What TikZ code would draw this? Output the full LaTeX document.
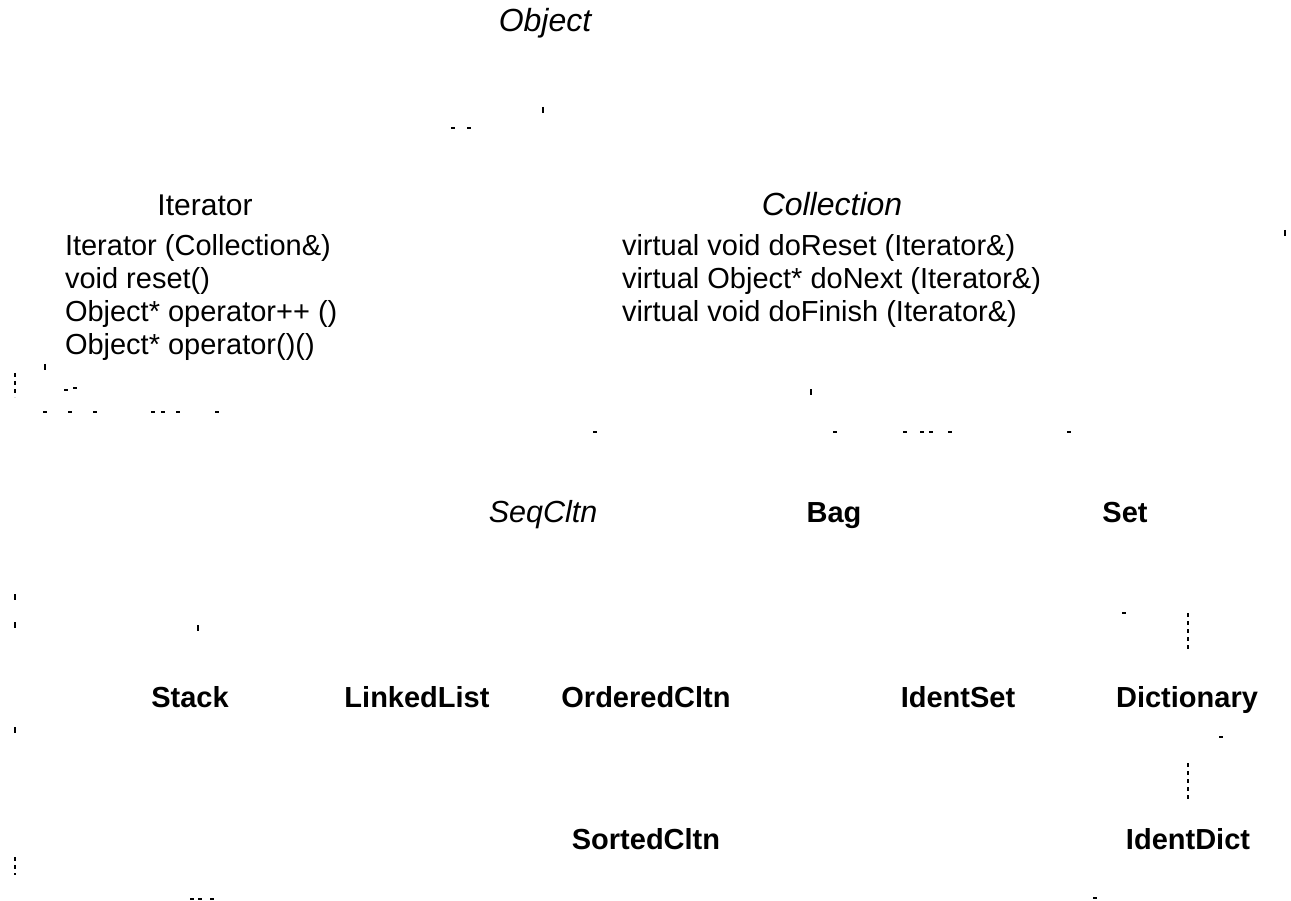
\documentclass[tikz,border=0pt]{standalone}
\usepackage{fontspec}
\setmainfont{Liberation Sans}
\begin{document}
\begin{tikzpicture}[x=1pt,y=-1pt,
  every node/.style={inner sep=0pt, outer sep=0pt},
  cls/.style={font=\fontsize{29}{33}\selectfont\bfseries, anchor=base},
  abscls/.style={font=\fontsize{30.5}{33}\selectfont\itshape, anchor=base},
  bigabs/.style={font=\fontsize{32}{33}\selectfont\itshape, anchor=base},
  plaincls/.style={font=\fontsize{30}{33}\selectfont, anchor=base},
  oper/.style={font=\fontsize{29}{33}\selectfont, anchor=base west},
  speck/.style={line width=1.6pt},
  dashfrag/.style={line width=1.4pt, dash pattern=on 4pt off 4pt}]
\useasboundingbox (0,0) rectangle (1291,901);

% class names
\node[bigabs] (object) at (545,32) {Object};
\node[plaincls] (iterator) at (205,216) {Iterator};
\node[bigabs] (collection) at (832,216) {Collection};
\node[abscls] (seqcltn) at (543,522) {SeqCltn};
\node[cls] (bag) at (834,522) {Bag};
\node[cls] (set) at (1125,522) {Set};
\node[cls] (stack) at (190,707) {Stack};
\node[cls] (linkedlist) at (417,707) {LinkedList};
\node[cls] (orderedcltn) at (646,707) {OrderedCltn};
\node[cls] (identset) at (958,707) {IdentSet};
\node[cls] (dictionary) at (1187,707) {Dictionary};
\node[cls] (sortedcltn) at (646,849) {SortedCltn};
\node[cls] (identdict) at (1188,849) {IdentDict};

% Iterator operations
\node[oper] (it1) at (65,256) {Iterator (Collection\&)};
\node[oper] (it2) at (65,289) {void reset()};
\node[oper] (it3) at (65,322) {Object* operator++ ()};
\node[oper] (it4) at (65,355) {Object* operator()()};

% Collection operations
\node[oper] (cm1) at (622,256) {virtual void doReset (Iterator\&)};
\node[oper] (cm2) at (622,289) {virtual Object* doNext (Iterator\&)};
\node[oper] (cm3) at (622,322) {virtual void doFinish (Iterator\&)};

% surviving fragments of the connectors
\coordinate (sd1) at (1188,613);
\coordinate (sd2) at (1188,652);
\coordinate (di1) at (1188,763);
\coordinate (di2) at (1188,799);
\coordinate (lf1) at (15,373);
\coordinate (lf2) at (15,397);
\coordinate (lf3) at (15,857);
\coordinate (lf4) at (15,875);
\draw[dashfrag] (sd1) -- (sd2);
\draw[dashfrag] (di1) -- (di2);
\draw[dashfrag] (lf1) -- (lf2);
\draw[dashfrag] (lf3) -- (lf4);

% vertical specks
\foreach \x/\y in {543/110, 1285/233, 45/367, 811/392, 15/597, 15/625, 198/628, 15/730}
  \draw[speck] (\x,\y-3) -- (\x,\y+3);
% horizontal specks
\foreach \x/\y in {453/128, 469/128, 66/390, 75/388,
                   45/412, 70/412, 95/412, 153/412, 163/412, 178/412, 217/412,
                   595/432, 835/432, 905/432, 922/432, 931/432, 950/432, 1069/432,
                   1124/613, 1221/737, 192/899, 200/899, 212/899, 1095/898}
  \draw[speck] (\x-2,\y) -- (\x+2,\y);
\end{tikzpicture}
\end{document}
